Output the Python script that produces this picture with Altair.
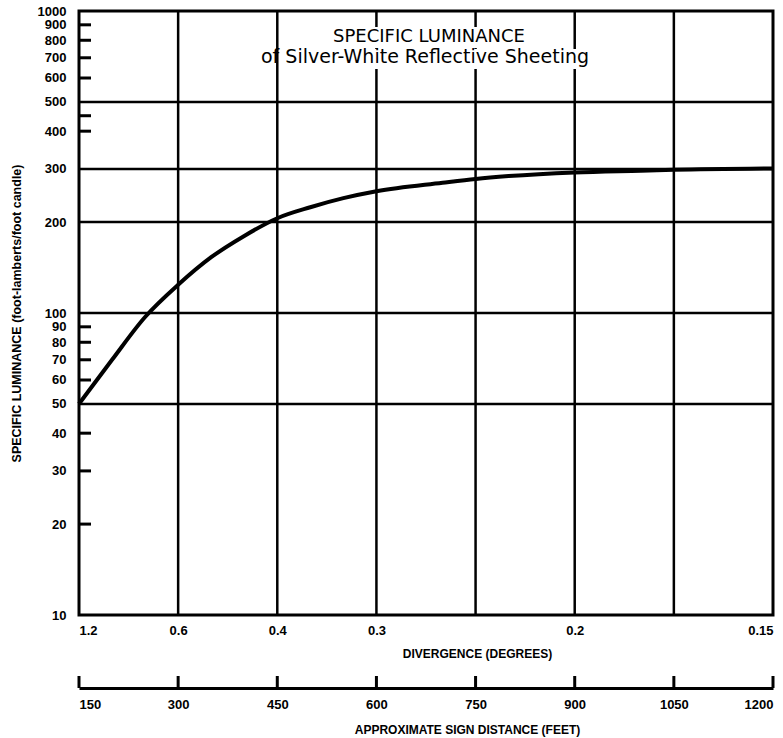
import altair as alt
import pandas as pd

# ---- data ----
distance = [150, 200, 250, 300, 350, 400, 450, 500, 550, 600, 700, 750, 800, 900, 1000, 1050, 1200]
luminance = [50, 70, 97, 124, 153, 180, 206, 224, 240, 253, 270, 278, 284, 292, 296, 298, 301]

v_grid = [300, 450, 600, 750, 900, 1050]
h_grid = [50, 100, 200, 300, 500]
minor_ticks = [900, 800, 700, 600, 450, 400, 90, 80, 70, 60, 40, 30, 20]
y_labels = [10, 20, 30, 40, 50, 60, 70, 80, 90, 100, 200, 300, 400, 500, 600, 700, 800, 900, 1000]
div_pos = [150, 300, 450, 600, 900, 1200]
div_text = ["1.2", "0.6", "0.4", "0.3", "0.2", "0.15"]
dist_ticks = [150, 300, 450, 600, 750, 900, 1050, 1200]

title_lines = ["SPECIFIC LUMINANCE", "of Silver-White Reflective Sheeting"]

W, H = 694, 604
X_DOM = [150, 1200]
FONT = "Liberation Sans"

df_line = pd.DataFrame({"x": distance, "y": luminance})
df_vgrid = pd.DataFrame({"x": v_grid})
df_hgrid = pd.DataFrame({"y": h_grid})
df_minor = pd.DataFrame({"y": minor_ticks})
df_dist = pd.DataFrame({"x": dist_ticks})
df_one = pd.DataFrame({"k": [0]})

y_scale = alt.Scale(type="log", domain=[10, 1000], nice=False)
y_axis = alt.Axis(
    values=y_labels, format="d", ticks=False, tickSize=0, domain=False, grid=False,
    labelPadding=13, labelFont=FONT, labelFontSize=13, labelFontWeight="bold",
    labelColor="black", labelOverlap=False,
    title="SPECIFIC LUMINANCE (foot-lamberts/foot candle)",
    titleFont=FONT, titleFontSize=12.5, titleFontWeight="bold", titleColor="black",
    titleAngle=270, titleX=-63, titleY=H / 2, titleAlign="center", titleBaseline="middle",
)


def Y(field="y"):
    return alt.Y(f"{field}:Q", scale=y_scale, axis=y_axis)


def xscale():
    return alt.Scale(domain=X_DOM, nice=False, zero=False)


label_expr = " : ".join(
    f"datum.value == {p} ? '{t}'" for p, t in zip(div_pos, div_text)
) + " : ''"

div_axis = alt.Axis(
    orient="bottom",
    values=div_pos, labelExpr=label_expr, ticks=False, tickSize=0, domain=False, grid=False,
    labelFlush=True, labelPadding=9, labelFont=FONT, labelFontSize=13,
    labelFontWeight="bold", labelColor="black", labelOverlap=False,
    title="DIVERGENCE (DEGREES)", titleFont=FONT, titleFontSize=12, titleFontWeight="bold",
    titleColor="black", titleX=398, titleY=38, titleAlign="center", titleBaseline="middle",
)

dist_axis = alt.Axis(
    orient="bottom",
    values=dist_ticks, format="d", ticks=False, tickSize=0, domain=True, domainColor="black",
    domainWidth=3, grid=False, offset=73, labelPadding=10, labelFont=FONT, labelFontSize=13,
    labelFontWeight="bold", labelColor="black", labelOverlap=False,
    title="APPROXIMATE SIGN DISTANCE (FEET)", titleFont=FONT, titleFontSize=12,
    titleFontWeight="bold", titleColor="black", titleX=388, titleY=41,
    titleAlign="center", titleBaseline="middle",
)

vgrid = alt.Chart(df_vgrid).mark_rule(color="black", strokeWidth=2.5).encode(
    x=alt.X("x:Q", scale=xscale(), axis=None)
)
hgrid = alt.Chart(df_hgrid).mark_rule(color="black", strokeWidth=2.5).encode(y=Y())

minor = alt.Chart(df_minor).mark_rule(color="black", strokeWidth=3).encode(
    y=Y(), x=alt.value(0), x2=alt.value(12)
)

box1 = alt.Chart(df_one).mark_rect(color="white").encode(
    x=alt.value(232), x2=alt.value(468), y=alt.value(16), y2=alt.value(37)
)
box2 = alt.Chart(df_one).mark_rect(color="white").encode(
    x=alt.value(200), x2=alt.value(526), y=alt.value(38), y2=alt.value(58)
)
t1 = alt.Chart(df_one).mark_text(
    text=title_lines[0], font="DejaVu Sans", fontSize=18, align="center",
    baseline="alphabetic", color="black"
).encode(x=alt.value(350), y=alt.value(31))
t2 = alt.Chart(df_one).mark_text(
    text=title_lines[1], font="DejaVu Sans", fontSize=19, align="center",
    baseline="alphabetic", color="black"
).encode(x=alt.value(346), y=alt.value(52))

curve = alt.Chart(df_line).mark_line(
    color="black", strokeWidth=4, interpolate="monotone"
).encode(x=alt.X("x:Q", scale=xscale(), axis=div_axis), y=Y())

dist = alt.Chart(df_dist).mark_rule(color="black", strokeWidth=3).encode(
    x=alt.X("x:Q", scale=xscale(), axis=dist_axis),
    y=alt.value(H + 61), y2=alt.value(H + 73),
)

chart = (
    alt.layer(vgrid, hgrid, box1, box2, t1, t2, minor, curve, dist)
    .resolve_scale(x="independent")
    .properties(
        width=W, height=H,
        padding={"left": 79, "top": 11, "right": 10, "bottom": 123},
        autosize=alt.AutoSizeParams(type="none"),
        background="white",
    )
    .configure_view(stroke="black", strokeWidth=3)
)

chart.save("out.html", embed_options={"renderer": "svg", "actions": False})
